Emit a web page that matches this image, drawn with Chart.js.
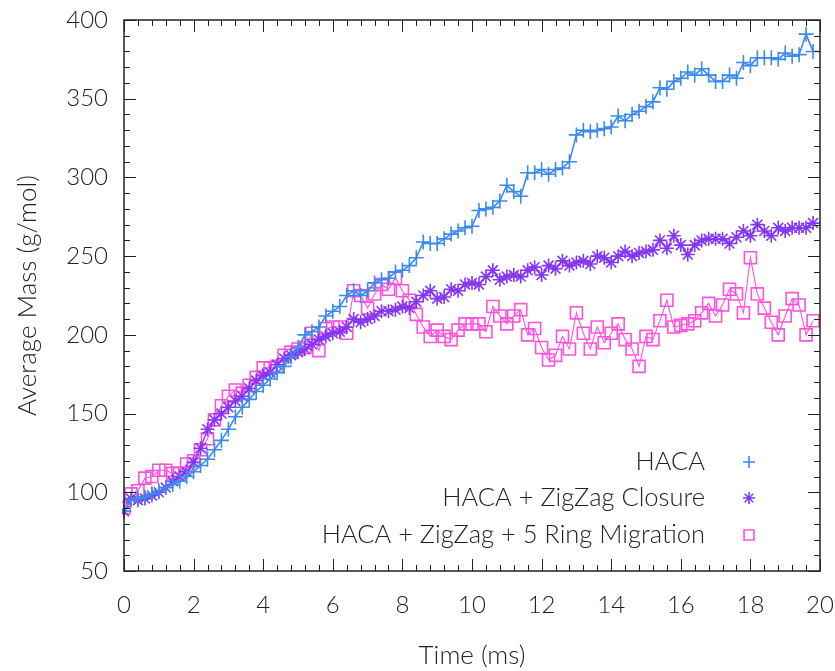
<!DOCTYPE html>
<html>
<head>
<meta charset="utf-8">
<script src="https://cdn.jsdelivr.net/npm/chart.js@4/dist/chart.umd.min.js"></script>
<style>
  html, body { margin: 0; padding: 0; background: #fff; }
  #wrap { width: 835px; height: 671px; }
</style>
</head>
<body>
<div id="wrap"><canvas id="c" width="835" height="671"></canvas></div>
<script>
// time axis, 0.2 ms steps
const times = Array.from({ length: 100 }, (_, i) => +(i * 0.2).toFixed(1));

const haca = [
  88, 95, 96, 97, 99, 101, 103, 105, 107, 110,
  113, 117, 121, 127, 133, 140, 148, 154, 159, 164,
  168, 172, 176, 180, 186, 192, 200, 202, 205, 212,
  215, 218, 225, 228, 225, 228, 233, 235, 236, 240,
  241, 244, 249, 259, 258, 258, 261, 264, 266, 268,
  269, 279, 280, 281, 285, 295, 291, 288, 303, 303,
  305, 302, 305, 306, 310, 327, 330, 329, 330, 331,
  332, 339, 336, 340, 342, 345, 348, 357, 356, 361,
  363, 367, 365, 369, 365, 361, 361, 365, 363, 373,
  371, 376, 376, 376, 375, 379, 377, 378, 391, 380
];

const zigzag = [
  88, 96, 95, 96, 98, 100, 103, 107, 110, 113,
  119, 128, 140, 146, 150, 154, 158, 161, 166, 171,
  174, 176, 181, 185, 187, 189, 191, 194, 197, 199,
  201, 202, 205, 210, 208, 210, 212, 215, 215, 216,
  218, 217, 221, 225, 228, 223, 224, 229, 228, 232,
  233, 232, 237, 241, 235, 237, 238, 237, 241, 243,
  238, 244, 242, 247, 244, 246, 247, 245, 250, 249,
  246, 250, 253, 250, 252, 253, 254, 260, 255, 263,
  257, 251, 257, 260, 261, 261, 261, 258, 262, 266,
  263, 270, 266, 263, 268, 266, 268, 268, 268, 271
];

const ringMigration = [
  90, 99, 101, 109, 110, 114, 114, 112, 112, 118,
  120, 127, 134, 146, 155, 161, 165, 163, 168, 173,
  179, 179, 180, 187, 189, 191, 192, 201, 190, 204,
  205, 205, 201, 228, 225, 217, 226, 232, 229, 236,
  228, 222, 213, 205, 199, 203, 199, 197, 203, 207,
  207, 207, 202, 218, 212, 207, 212, 216, 200, 204,
  192, 184, 187, 199, 191, 214, 201, 191, 205, 195,
  201, 207, 197, 191, 180, 199, 197, 209, 222, 205,
  206, 207, 209, 214, 220, 212, 219, 229, 226, 214,
  249, 226, 217, 208, 200, 212, 223, 219, 200, 209
];

const seriesLabels = ["HACA", "HACA + ZigZag Closure", "HACA + ZigZag + 5 Ring Migration"];
const seriesColors = ["#3a8af0", "#8436f5", "#ff52dc"];
const seriesPoints = ["cross", "star", "rect"];
const seriesRadius = [7.5, 7, 8.5];
const seriesLineWidth = [1.6, 1.4, 1.1];
const xTicks = [0, 2, 4, 6, 8, 10, 12, 14, 16, 18, 20];
const yTicks = [50, 100, 150, 200, 250, 300, 350, 400];

const FONT = "Lato, 'Open Sans', 'DejaVu Sans', sans-serif";

const toXY = vals => vals.map((v, i) => ({ x: times[i], y: v }));
const allValues = [haca, zigzag, ringMigration];

const datasets = allValues.map((vals, i) => ({
  label: seriesLabels[i],
  data: toXY(vals),
  borderColor: seriesColors[i],
  backgroundColor: "rgba(0,0,0,0)",
  borderWidth: seriesLineWidth[i],
  pointStyle: seriesPoints[i],
  pointRadius: seriesRadius[i],
  pointBorderWidth: 1.6,
  pointBorderColor: seriesColors[i],
  pointBackgroundColor: "rgba(0,0,0,0)",
  tension: 0,
  clip: 2
}));

// gnuplot-like frame: border box + inward major/minor ticks on all four sides
const framePlugin = {
  id: "frame",
  afterDatasetsDraw(chart) {
    const { ctx, chartArea: a, scales } = chart;
    const xs = scales.x, ys = scales.y;
    ctx.save();
    ctx.strokeStyle = "#222";
    ctx.lineWidth = 1;
    for (let v = 0; v <= 20.001; v += 0.4) {
      const px = Math.round(xs.getPixelForValue(v)) + 0.5;
      const major = Math.abs(v / 2 - Math.round(v / 2)) < 1e-6;
      const len = major ? 12 : 6;
      ctx.beginPath();
      ctx.moveTo(px, a.bottom); ctx.lineTo(px, a.bottom - len);
      ctx.moveTo(px, a.top); ctx.lineTo(px, a.top + len);
      ctx.stroke();
    }
    for (let v = 50; v <= 400; v += 10) {
      const py = Math.round(ys.getPixelForValue(v)) + 0.5;
      const len = v % 50 === 0 ? 12 : 6;
      ctx.beginPath();
      ctx.moveTo(a.left, py); ctx.lineTo(a.left + len, py);
      ctx.moveTo(a.right, py); ctx.lineTo(a.right - len, py);
      ctx.stroke();
    }
    ctx.lineWidth = 1.5;
    ctx.strokeRect(a.left, a.top, a.right - a.left, a.bottom - a.top);
    ctx.restore();
  }
};

// key in the lower right, text right-aligned with sample marker after it
const keyPlugin = {
  id: "key",
  afterDraw(chart) {
    const { ctx } = chart;
    ctx.save();
    ctx.font = "300 25.5px " + FONT;
    ctx.textAlign = "right";
    ctx.textBaseline = "middle";
    const rows = [462, 498, 535];
    chart.data.datasets.forEach((ds, i) => {
      ctx.fillStyle = "#222";
      ctx.fillText(ds.label, 705, rows[i]);
      ctx.fillStyle = "rgba(0,0,0,0)";
      ctx.strokeStyle = ds.borderColor;
      ctx.lineWidth = 1.6;
      Chart.helpers.drawPoint(ctx, {
        pointStyle: ds.pointStyle,
        radius: ds.pointStyle === "rect" ? 7 : 6,
        borderWidth: 1.6
      }, 749, rows[i]);
    });
    ctx.restore();
  }
};

new Chart(document.getElementById("c"), {
  type: "line",
  data: { datasets },
  options: {
    responsive: false,
    animation: false,
    layout: { padding: { top: 20, right: 15, left: 0, bottom: 0 } },
    plugins: { legend: { display: false }, tooltip: { enabled: false } },
    scales: {
      x: {
        type: "linear",
        min: 0, max: 20,
        afterBuildTicks: s => { s.ticks = xTicks.map(v => ({ value: v })); },
        afterFit: s => { s.height = 100; s.paddingLeft = 0; s.paddingRight = 0; },
        grid: { display: false, drawTicks: false },
        border: { display: false },
        ticks: {
          padding: 20,
          color: "#222",
          font: { family: FONT, size: 24, weight: "300" },
          maxRotation: 0
        },
        title: {
          display: true,
          text: "Time (ms)",
          color: "#222",
          font: { family: FONT, size: 26, weight: "300" },
          padding: { top: 0, bottom: 0 }
        }
      },
      y: {
        type: "linear",
        min: 50, max: 400,
        afterBuildTicks: s => { s.ticks = yTicks.map(v => ({ value: v })); },
        afterFit: s => { s.width = 124; s.paddingTop = 0; s.paddingBottom = 0; },
        grid: { display: false, drawTicks: false },
        border: { display: false },
        ticks: {
          padding: 16,
          color: "#222",
          font: { family: FONT, size: 24, weight: "300" }
        },
        title: {
          display: true,
          text: "Average Mass (g/mol)",
          color: "#222",
          font: { family: FONT, size: 26, weight: "300" },
          padding: { top: 12, bottom: 0 }
        }
      }
    }
  },
  plugins: [framePlugin, keyPlugin]
});
</script>
</body>
</html>
